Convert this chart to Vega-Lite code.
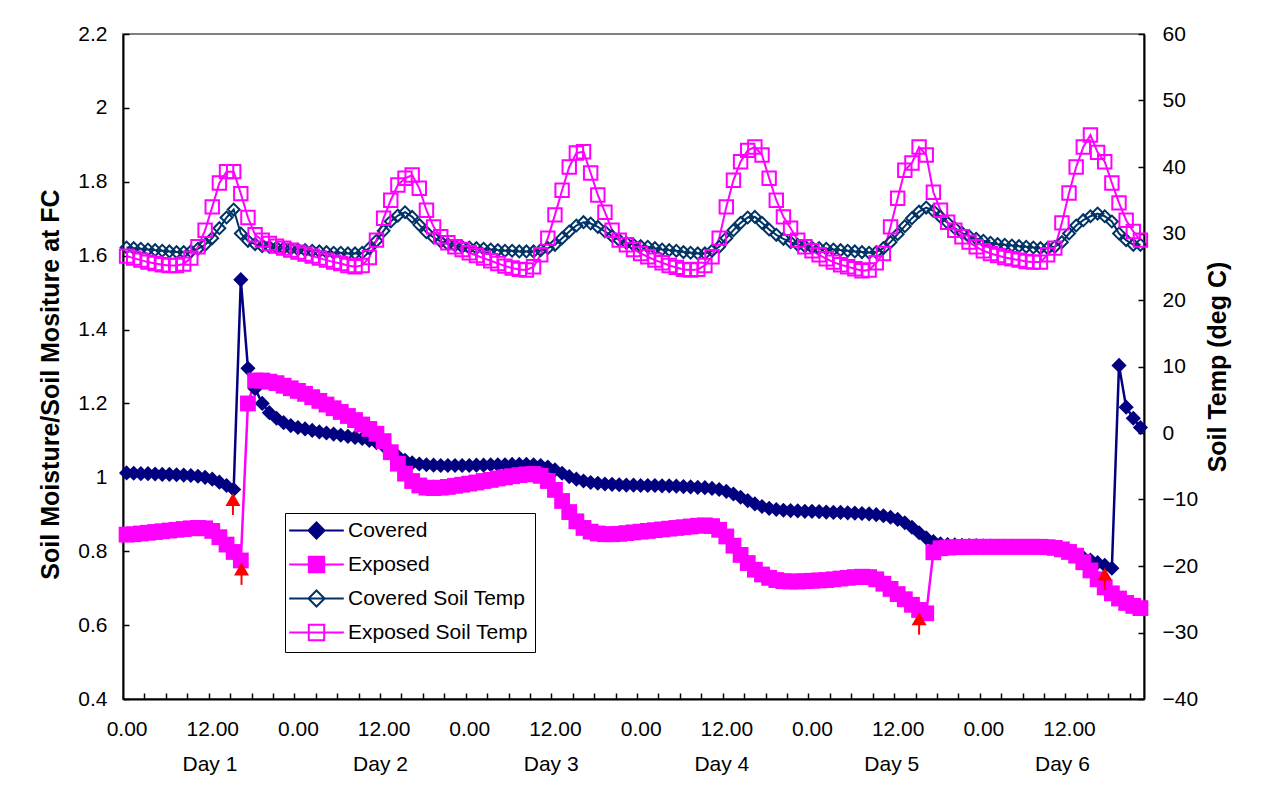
{
  "$schema": "https://vega.github.io/schema/vega-lite/v6.json",
  "width": 1021,
  "height": 665,
  "autosize": {"type": "none"},
  "padding": {"left": 123, "top": 34, "right": 125, "bottom": 100},
  "background": "white",
  "config": {
    "view": {"stroke": "#808080", "strokeWidth": 2},
    "font": "Liberation Sans",
    "axis": {
      "labelFont": "Liberation Sans", "labelFontSize": 21, "labelColor": "black",
      "titleFont": "Liberation Sans", "titleFontSize": 25, "titleFontWeight": "bold", "titleColor": "black",
      "grid": false, "domainColor": "black", "domainWidth": 2, "tickColor": "black", "tickWidth": 1.5,
      "labelFlush": false, "labelOverlap": false
    }
  },
  "datasets": {
    "main": [
      {"h":0,"Covered":1.012,"Exposed":0.845,"Covered Soil Temp":27.9,"Exposed Soil Temp":26.6},
      {"h":1,"Covered":1.011,"Exposed":0.846,"Covered Soil Temp":27.8,"Exposed Soil Temp":26.3},
      {"h":2,"Covered":1.010,"Exposed":0.848,"Covered Soil Temp":27.7,"Exposed Soil Temp":26.0},
      {"h":3,"Covered":1.010,"Exposed":0.850,"Covered Soil Temp":27.6,"Exposed Soil Temp":25.7},
      {"h":4,"Covered":1.009,"Exposed":0.852,"Covered Soil Temp":27.5,"Exposed Soil Temp":25.5},
      {"h":5,"Covered":1.008,"Exposed":0.854,"Covered Soil Temp":27.4,"Exposed Soil Temp":25.3},
      {"h":6,"Covered":1.008,"Exposed":0.856,"Covered Soil Temp":27.3,"Exposed Soil Temp":25.2},
      {"h":7,"Covered":1.007,"Exposed":0.858,"Covered Soil Temp":27.2,"Exposed Soil Temp":25.2},
      {"h":8,"Covered":1.006,"Exposed":0.860,"Covered Soil Temp":27.2,"Exposed Soil Temp":25.4},
      {"h":9,"Covered":1.005,"Exposed":0.862,"Covered Soil Temp":27.3,"Exposed Soil Temp":26.3},
      {"h":10,"Covered":1.003,"Exposed":0.863,"Covered Soil Temp":27.7,"Exposed Soil Temp":28.0},
      {"h":11,"Covered":1.000,"Exposed":0.862,"Covered Soil Temp":28.3,"Exposed Soil Temp":30.5},
      {"h":12,"Covered":0.995,"Exposed":0.855,"Covered Soil Temp":29.3,"Exposed Soil Temp":34.0},
      {"h":13,"Covered":0.987,"Exposed":0.838,"Covered Soil Temp":30.8,"Exposed Soil Temp":37.6},
      {"h":14,"Covered":0.978,"Exposed":0.818,"Covered Soil Temp":32.4,"Exposed Soil Temp":39.3},
      {"h":15,"Covered":0.967,"Exposed":0.798,"Covered Soil Temp":33.6,"Exposed Soil Temp":39.3},
      {"h":16,"Covered":1.535,"Exposed":0.775,"Covered Soil Temp":30.0,"Exposed Soil Temp":36.0},
      {"h":17,"Covered":1.295,"Exposed":1.200,"Covered Soil Temp":28.9,"Exposed Soil Temp":32.4},
      {"h":18,"Covered":1.240,"Exposed":1.262,"Covered Soil Temp":28.4,"Exposed Soil Temp":29.8},
      {"h":19,"Covered":1.200,"Exposed":1.262,"Covered Soil Temp":28.1,"Exposed Soil Temp":29.0},
      {"h":20,"Covered":1.175,"Exposed":1.259,"Covered Soil Temp":28.0,"Exposed Soil Temp":28.5},
      {"h":21,"Covered":1.160,"Exposed":1.255,"Covered Soil Temp":27.9,"Exposed Soil Temp":28.1},
      {"h":22,"Covered":1.148,"Exposed":1.248,"Covered Soil Temp":27.8,"Exposed Soil Temp":27.8},
      {"h":23,"Covered":1.140,"Exposed":1.241,"Covered Soil Temp":27.7,"Exposed Soil Temp":27.5},
      {"h":24,"Covered":1.135,"Exposed":1.234,"Covered Soil Temp":27.6,"Exposed Soil Temp":27.2},
      {"h":25,"Covered":1.131,"Exposed":1.226,"Covered Soil Temp":27.5,"Exposed Soil Temp":26.9},
      {"h":26,"Covered":1.127,"Exposed":1.217,"Covered Soil Temp":27.4,"Exposed Soil Temp":26.6},
      {"h":27,"Covered":1.123,"Exposed":1.207,"Covered Soil Temp":27.3,"Exposed Soil Temp":26.3},
      {"h":28,"Covered":1.120,"Exposed":1.197,"Covered Soil Temp":27.2,"Exposed Soil Temp":26.0},
      {"h":29,"Covered":1.117,"Exposed":1.187,"Covered Soil Temp":27.1,"Exposed Soil Temp":25.7},
      {"h":30,"Covered":1.114,"Exposed":1.177,"Covered Soil Temp":27.1,"Exposed Soil Temp":25.5},
      {"h":31,"Covered":1.111,"Exposed":1.166,"Covered Soil Temp":27.0,"Exposed Soil Temp":25.2},
      {"h":32,"Covered":1.108,"Exposed":1.155,"Covered Soil Temp":27.0,"Exposed Soil Temp":25.0},
      {"h":33,"Covered":1.105,"Exposed":1.143,"Covered Soil Temp":27.1,"Exposed Soil Temp":25.2},
      {"h":34,"Covered":1.100,"Exposed":1.131,"Covered Soil Temp":27.8,"Exposed Soil Temp":26.4},
      {"h":35,"Covered":1.094,"Exposed":1.118,"Covered Soil Temp":28.9,"Exposed Soil Temp":29.0},
      {"h":36,"Covered":1.085,"Exposed":1.098,"Covered Soil Temp":30.4,"Exposed Soil Temp":32.3},
      {"h":37,"Covered":1.072,"Exposed":1.068,"Covered Soil Temp":31.8,"Exposed Soil Temp":35.0},
      {"h":38,"Covered":1.057,"Exposed":1.037,"Covered Soil Temp":32.7,"Exposed Soil Temp":37.3},
      {"h":39,"Covered":1.046,"Exposed":1.010,"Covered Soil Temp":33.2,"Exposed Soil Temp":38.3},
      {"h":40,"Covered":1.039,"Exposed":0.990,"Covered Soil Temp":32.5,"Exposed Soil Temp":38.8},
      {"h":41,"Covered":1.036,"Exposed":0.978,"Covered Soil Temp":31.3,"Exposed Soil Temp":36.8},
      {"h":42,"Covered":1.034,"Exposed":0.972,"Covered Soil Temp":30.2,"Exposed Soil Temp":33.5},
      {"h":43,"Covered":1.033,"Exposed":0.971,"Covered Soil Temp":29.4,"Exposed Soil Temp":31.0},
      {"h":44,"Covered":1.032,"Exposed":0.972,"Covered Soil Temp":28.8,"Exposed Soil Temp":29.5},
      {"h":45,"Covered":1.032,"Exposed":0.974,"Covered Soil Temp":28.4,"Exposed Soil Temp":28.6},
      {"h":46,"Covered":1.032,"Exposed":0.977,"Covered Soil Temp":28.2,"Exposed Soil Temp":28.0},
      {"h":47,"Covered":1.032,"Exposed":0.980,"Covered Soil Temp":28.0,"Exposed Soil Temp":27.6},
      {"h":48,"Covered":1.032,"Exposed":0.983,"Covered Soil Temp":27.9,"Exposed Soil Temp":27.1},
      {"h":49,"Covered":1.033,"Exposed":0.986,"Covered Soil Temp":27.8,"Exposed Soil Temp":26.7},
      {"h":50,"Covered":1.033,"Exposed":0.990,"Covered Soil Temp":27.7,"Exposed Soil Temp":26.3},
      {"h":51,"Covered":1.034,"Exposed":0.993,"Covered Soil Temp":27.6,"Exposed Soil Temp":25.9},
      {"h":52,"Covered":1.034,"Exposed":0.997,"Covered Soil Temp":27.5,"Exposed Soil Temp":25.5},
      {"h":53,"Covered":1.034,"Exposed":1.000,"Covered Soil Temp":27.4,"Exposed Soil Temp":25.1},
      {"h":54,"Covered":1.035,"Exposed":1.003,"Covered Soil Temp":27.4,"Exposed Soil Temp":24.8},
      {"h":55,"Covered":1.035,"Exposed":1.006,"Covered Soil Temp":27.3,"Exposed Soil Temp":24.6},
      {"h":56,"Covered":1.035,"Exposed":1.008,"Covered Soil Temp":27.3,"Exposed Soil Temp":24.5},
      {"h":57,"Covered":1.034,"Exposed":1.009,"Covered Soil Temp":27.3,"Exposed Soil Temp":25.0},
      {"h":58,"Covered":1.032,"Exposed":1.004,"Covered Soil Temp":27.5,"Exposed Soil Temp":26.8},
      {"h":59,"Covered":1.028,"Exposed":0.990,"Covered Soil Temp":27.8,"Exposed Soil Temp":29.3},
      {"h":60,"Covered":1.020,"Exposed":0.966,"Covered Soil Temp":28.3,"Exposed Soil Temp":32.8},
      {"h":61,"Covered":1.011,"Exposed":0.936,"Covered Soil Temp":29.3,"Exposed Soil Temp":36.5},
      {"h":62,"Covered":1.002,"Exposed":0.906,"Covered Soil Temp":30.3,"Exposed Soil Temp":40.0},
      {"h":63,"Covered":0.995,"Exposed":0.881,"Covered Soil Temp":31.2,"Exposed Soil Temp":42.1},
      {"h":64,"Covered":0.990,"Exposed":0.863,"Covered Soil Temp":31.7,"Exposed Soil Temp":42.3},
      {"h":65,"Covered":0.986,"Exposed":0.853,"Covered Soil Temp":31.5,"Exposed Soil Temp":39.1},
      {"h":66,"Covered":0.984,"Exposed":0.848,"Covered Soil Temp":31.0,"Exposed Soil Temp":35.8},
      {"h":67,"Covered":0.982,"Exposed":0.846,"Covered Soil Temp":30.3,"Exposed Soil Temp":33.2},
      {"h":68,"Covered":0.981,"Exposed":0.846,"Covered Soil Temp":29.6,"Exposed Soil Temp":30.5},
      {"h":69,"Covered":0.980,"Exposed":0.847,"Covered Soil Temp":29.0,"Exposed Soil Temp":29.0},
      {"h":70,"Covered":0.979,"Exposed":0.849,"Covered Soil Temp":28.6,"Exposed Soil Temp":28.3},
      {"h":71,"Covered":0.979,"Exposed":0.851,"Covered Soil Temp":28.3,"Exposed Soil Temp":27.6},
      {"h":72,"Covered":0.978,"Exposed":0.853,"Covered Soil Temp":28.1,"Exposed Soil Temp":27.0},
      {"h":73,"Covered":0.978,"Exposed":0.855,"Covered Soil Temp":28.0,"Exposed Soil Temp":26.5},
      {"h":74,"Covered":0.978,"Exposed":0.857,"Covered Soil Temp":27.8,"Exposed Soil Temp":26.0},
      {"h":75,"Covered":0.977,"Exposed":0.859,"Covered Soil Temp":27.6,"Exposed Soil Temp":25.6},
      {"h":76,"Covered":0.977,"Exposed":0.861,"Covered Soil Temp":27.5,"Exposed Soil Temp":25.2},
      {"h":77,"Covered":0.976,"Exposed":0.863,"Covered Soil Temp":27.4,"Exposed Soil Temp":24.9},
      {"h":78,"Covered":0.975,"Exposed":0.865,"Covered Soil Temp":27.2,"Exposed Soil Temp":24.6},
      {"h":79,"Covered":0.974,"Exposed":0.867,"Covered Soil Temp":27.1,"Exposed Soil Temp":24.5},
      {"h":80,"Covered":0.973,"Exposed":0.869,"Covered Soil Temp":27.0,"Exposed Soil Temp":24.6},
      {"h":81,"Covered":0.972,"Exposed":0.870,"Covered Soil Temp":27.0,"Exposed Soil Temp":25.2},
      {"h":82,"Covered":0.970,"Exposed":0.868,"Covered Soil Temp":27.4,"Exposed Soil Temp":26.5},
      {"h":83,"Covered":0.967,"Exposed":0.858,"Covered Soil Temp":28.0,"Exposed Soil Temp":29.3},
      {"h":84,"Covered":0.962,"Exposed":0.840,"Covered Soil Temp":29.3,"Exposed Soil Temp":34.0},
      {"h":85,"Covered":0.955,"Exposed":0.815,"Covered Soil Temp":30.5,"Exposed Soil Temp":38.0},
      {"h":86,"Covered":0.946,"Exposed":0.790,"Covered Soil Temp":31.6,"Exposed Soil Temp":40.8},
      {"h":87,"Covered":0.937,"Exposed":0.768,"Covered Soil Temp":32.4,"Exposed Soil Temp":42.5},
      {"h":88,"Covered":0.928,"Exposed":0.750,"Covered Soil Temp":32.5,"Exposed Soil Temp":43.0},
      {"h":89,"Covered":0.921,"Exposed":0.737,"Covered Soil Temp":31.6,"Exposed Soil Temp":41.8},
      {"h":90,"Covered":0.916,"Exposed":0.728,"Covered Soil Temp":30.6,"Exposed Soil Temp":38.3},
      {"h":91,"Covered":0.913,"Exposed":0.722,"Covered Soil Temp":29.8,"Exposed Soil Temp":35.0},
      {"h":92,"Covered":0.911,"Exposed":0.719,"Covered Soil Temp":29.2,"Exposed Soil Temp":32.5},
      {"h":93,"Covered":0.910,"Exposed":0.718,"Covered Soil Temp":28.7,"Exposed Soil Temp":30.8},
      {"h":94,"Covered":0.909,"Exposed":0.718,"Covered Soil Temp":28.3,"Exposed Soil Temp":29.0},
      {"h":95,"Covered":0.908,"Exposed":0.719,"Covered Soil Temp":28.1,"Exposed Soil Temp":28.0},
      {"h":96,"Covered":0.908,"Exposed":0.720,"Covered Soil Temp":27.9,"Exposed Soil Temp":27.4},
      {"h":97,"Covered":0.907,"Exposed":0.721,"Covered Soil Temp":27.8,"Exposed Soil Temp":26.8},
      {"h":98,"Covered":0.906,"Exposed":0.722,"Covered Soil Temp":27.7,"Exposed Soil Temp":26.2},
      {"h":99,"Covered":0.905,"Exposed":0.724,"Covered Soil Temp":27.6,"Exposed Soil Temp":25.7},
      {"h":100,"Covered":0.905,"Exposed":0.726,"Covered Soil Temp":27.5,"Exposed Soil Temp":25.3},
      {"h":101,"Covered":0.904,"Exposed":0.728,"Covered Soil Temp":27.4,"Exposed Soil Temp":25.0},
      {"h":102,"Covered":0.903,"Exposed":0.730,"Covered Soil Temp":27.3,"Exposed Soil Temp":24.7},
      {"h":103,"Covered":0.902,"Exposed":0.731,"Covered Soil Temp":27.2,"Exposed Soil Temp":24.4},
      {"h":104,"Covered":0.901,"Exposed":0.730,"Covered Soil Temp":27.1,"Exposed Soil Temp":24.5},
      {"h":105,"Covered":0.899,"Exposed":0.724,"Covered Soil Temp":27.2,"Exposed Soil Temp":25.6},
      {"h":106,"Covered":0.896,"Exposed":0.712,"Covered Soil Temp":27.8,"Exposed Soil Temp":27.0},
      {"h":107,"Covered":0.892,"Exposed":0.698,"Covered Soil Temp":28.7,"Exposed Soil Temp":31.0},
      {"h":108,"Covered":0.886,"Exposed":0.684,"Covered Soil Temp":29.9,"Exposed Soil Temp":35.3},
      {"h":109,"Covered":0.877,"Exposed":0.670,"Covered Soil Temp":31.1,"Exposed Soil Temp":39.5},
      {"h":110,"Covered":0.865,"Exposed":0.655,"Covered Soil Temp":32.3,"Exposed Soil Temp":40.6},
      {"h":111,"Covered":0.850,"Exposed":0.641,"Covered Soil Temp":33.3,"Exposed Soil Temp":43.0},
      {"h":112,"Covered":0.836,"Exposed":0.632,"Covered Soil Temp":33.9,"Exposed Soil Temp":41.8},
      {"h":113,"Covered":0.826,"Exposed":0.797,"Covered Soil Temp":33.4,"Exposed Soil Temp":36.2},
      {"h":114,"Covered":0.820,"Exposed":0.808,"Covered Soil Temp":32.5,"Exposed Soil Temp":33.5},
      {"h":115,"Covered":0.818,"Exposed":0.810,"Covered Soil Temp":31.6,"Exposed Soil Temp":31.7},
      {"h":116,"Covered":0.817,"Exposed":0.811,"Covered Soil Temp":30.8,"Exposed Soil Temp":30.5},
      {"h":117,"Covered":0.816,"Exposed":0.811,"Covered Soil Temp":30.1,"Exposed Soil Temp":29.5},
      {"h":118,"Covered":0.815,"Exposed":0.812,"Covered Soil Temp":29.6,"Exposed Soil Temp":28.7},
      {"h":119,"Covered":0.815,"Exposed":0.812,"Covered Soil Temp":29.2,"Exposed Soil Temp":28.0},
      {"h":120,"Covered":0.814,"Exposed":0.812,"Covered Soil Temp":28.9,"Exposed Soil Temp":27.4},
      {"h":121,"Covered":0.814,"Exposed":0.812,"Covered Soil Temp":28.6,"Exposed Soil Temp":27.0},
      {"h":122,"Covered":0.813,"Exposed":0.812,"Covered Soil Temp":28.4,"Exposed Soil Temp":26.7},
      {"h":123,"Covered":0.813,"Exposed":0.812,"Covered Soil Temp":28.3,"Exposed Soil Temp":26.4},
      {"h":124,"Covered":0.812,"Exposed":0.812,"Covered Soil Temp":28.2,"Exposed Soil Temp":26.2},
      {"h":125,"Covered":0.812,"Exposed":0.812,"Covered Soil Temp":28.1,"Exposed Soil Temp":26.0},
      {"h":126,"Covered":0.812,"Exposed":0.812,"Covered Soil Temp":28.0,"Exposed Soil Temp":25.8},
      {"h":127,"Covered":0.811,"Exposed":0.812,"Covered Soil Temp":27.9,"Exposed Soil Temp":25.7},
      {"h":128,"Covered":0.811,"Exposed":0.812,"Covered Soil Temp":27.8,"Exposed Soil Temp":25.7},
      {"h":129,"Covered":0.810,"Exposed":0.811,"Covered Soil Temp":27.8,"Exposed Soil Temp":26.8},
      {"h":130,"Covered":0.808,"Exposed":0.809,"Covered Soil Temp":28.0,"Exposed Soil Temp":27.8},
      {"h":131,"Covered":0.804,"Exposed":0.805,"Covered Soil Temp":28.7,"Exposed Soil Temp":31.6},
      {"h":132,"Covered":0.798,"Exposed":0.798,"Covered Soil Temp":30.0,"Exposed Soil Temp":36.1},
      {"h":133,"Covered":0.791,"Exposed":0.788,"Covered Soil Temp":31.2,"Exposed Soil Temp":40.0},
      {"h":134,"Covered":0.783,"Exposed":0.770,"Covered Soil Temp":32.0,"Exposed Soil Temp":43.0},
      {"h":135,"Covered":0.776,"Exposed":0.748,"Covered Soil Temp":32.6,"Exposed Soil Temp":44.8},
      {"h":136,"Covered":0.769,"Exposed":0.724,"Covered Soil Temp":33.0,"Exposed Soil Temp":42.2},
      {"h":137,"Covered":0.762,"Exposed":0.702,"Covered Soil Temp":32.6,"Exposed Soil Temp":40.8},
      {"h":138,"Covered":0.754,"Exposed":0.686,"Covered Soil Temp":31.8,"Exposed Soil Temp":37.6},
      {"h":139,"Covered":1.303,"Exposed":0.672,"Covered Soil Temp":30.0,"Exposed Soil Temp":34.6},
      {"h":140,"Covered":1.190,"Exposed":0.660,"Covered Soil Temp":29.0,"Exposed Soil Temp":32.0},
      {"h":141,"Covered":1.160,"Exposed":0.652,"Covered Soil Temp":28.3,"Exposed Soil Temp":30.3},
      {"h":142,"Covered":1.135,"Exposed":0.646,"Covered Soil Temp":28.3,"Exposed Soil Temp":29.0}
    ],
    "arrows": [
      {"h":14.9,"base":0.898,"mid":0.940},
      {"h":16.1,"base":0.709,"mid":0.752},
      {"h":111.0,"base":0.574,"mid":0.617},
      {"h":137.0,"base":0.695,"mid":0.738}
    ],
    "legend": [
      {"h":0,"val":1,"series":"Covered"},
      {"h":0,"val":1,"series":"Exposed"},
      {"h":0,"val":1,"series":"Covered Soil Temp"},
      {"h":0,"val":1,"series":"Exposed Soil Temp"}
    ]
  },
  "resolve": {"scale": {"y": "independent"}, "axis": {"x": "independent", "y": "independent"}},
  "layer": [
    {
      "data": {"name": "main"},
      "mark": {"type": "line", "strokeWidth": 2.5, "color": "#000080"},
      "encoding": {
        "x": {"field": "h", "type": "quantitative", "scale": {"domain": [-0.5, 142.5], "nice": false, "zero": false},
          "axis": {"orient": "bottom", "title": null, "labels": false, "tickSize": -6, "domain": true,
            "values": [2.5,5.5,8.5,11.5,14.5,17.5,20.5,23.5,26.5,29.5,32.5,35.5,38.5,41.5,44.5,47.5,50.5,53.5,56.5,59.5,62.5,65.5,68.5,71.5,74.5,77.5,80.5,83.5,86.5,89.5,92.5,95.5,98.5,101.5,104.5,107.5,110.5,113.5,116.5,119.5,122.5,125.5,128.5,131.5,134.5,137.5,140.5]}},
        "y": {"field": "Covered", "type": "quantitative", "scale": {"domain": [0.4, 2.2], "nice": false, "zero": false},
          "axis": {"orient": "left", "values": [0.4,0.6,0.8,1,1.2,1.4,1.6,1.8,2,2.2], "format": "~g", "tickSize": -6, "labelPadding": 22,
            "title": "Soil Moisture/Soil Mositure at FC", "titleX": -73, "titleY": 350, "titleAngle": 270, "titleAlign": "center", "titleBaseline": "middle"}}
      }
    },
    {
      "data": {"name": "main"},
      "mark": {"type": "line", "strokeWidth": 2.5, "color": "#FF00FF"},
      "encoding": {
        "x": {"field": "h", "type": "quantitative", "scale": {"domain": [-0.5, 142.5], "nice": false, "zero": false},
          "axis": {"orient": "bottom", "title": null, "ticks": false, "domain": false, "labelPadding": 19,
            "values": [0,12,24,36,48,60,72,84,96,108,120,132],
            "labelExpr": "datum.value % 24 === 0 ? '0.00' : '12.00'"}},
        "y": {"field": "Exposed", "type": "quantitative", "scale": {"domain": [0.4, 2.2], "nice": false, "zero": false}, "axis": null}
      }
    },
    {
      "data": {"name": "main"},
      "mark": {"type": "point", "shape": "diamond", "filled": true, "color": "#000080", "size": 230, "opacity": 1},
      "encoding": {
        "x": {"field": "h", "type": "quantitative", "scale": {"domain": [-0.5, 142.5], "nice": false, "zero": false}, "axis": null},
        "y": {"field": "Covered", "type": "quantitative", "scale": {"domain": [0.4, 2.2], "nice": false, "zero": false}, "axis": null}
      }
    },
    {
      "data": {"name": "main"},
      "mark": {"type": "point", "shape": "square", "filled": true, "color": "#FF00FF", "size": 250, "opacity": 1},
      "encoding": {
        "x": {"field": "h", "type": "quantitative", "scale": {"domain": [-0.5, 142.5], "nice": false, "zero": false}, "axis": null},
        "y": {"field": "Exposed", "type": "quantitative", "scale": {"domain": [0.4, 2.2], "nice": false, "zero": false}, "axis": null}
      }
    },
    {
      "data": {"name": "main"},
      "mark": {"type": "line", "strokeWidth": 2, "color": "#003366"},
      "encoding": {
        "x": {"field": "h", "type": "quantitative", "scale": {"domain": [-0.5, 142.5], "nice": false, "zero": false},
          "axis": {"orient": "bottom", "title": null, "ticks": false, "domain": false, "labelPadding": 54,
            "values": [11.6, 35.5, 59.4, 83.3, 107.1, 131.0],
            "labelExpr": "'Day ' + (round((datum.value - 11.6) / 23.9) + 1)"}},
        "y": {"field": "Covered Soil Temp", "type": "quantitative", "scale": {"domain": [-40, 60], "nice": false, "zero": false},
          "axis": {"orient": "right", "values": [-40,-30,-20,-10,0,10,20,30,40,50,60], "tickSize": -6, "labelPadding": 24,
            "title": "Soil Temp (deg C)", "titleX": 73, "titleY": 332.5, "titleAngle": 270, "titleAlign": "center", "titleBaseline": "middle"}}
      }
    },
    {
      "data": {"name": "main"},
      "mark": {"type": "line", "strokeWidth": 2, "color": "#FF00FF"},
      "encoding": {
        "x": {"field": "h", "type": "quantitative", "scale": {"domain": [-0.5, 142.5], "nice": false, "zero": false}, "axis": null},
        "y": {"field": "Exposed Soil Temp", "type": "quantitative", "scale": {"domain": [-40, 60], "nice": false, "zero": false}, "axis": null}
      }
    },
    {
      "data": {"name": "main"},
      "mark": {"type": "point", "shape": "diamond", "filled": false, "color": "#003366", "size": 140, "strokeWidth": 2, "opacity": 1},
      "encoding": {
        "x": {"field": "h", "type": "quantitative", "scale": {"domain": [-0.5, 142.5], "nice": false, "zero": false}, "axis": null},
        "y": {"field": "Covered Soil Temp", "type": "quantitative", "scale": {"domain": [-40, 60], "nice": false, "zero": false}, "axis": null}
      }
    },
    {
      "data": {"name": "main"},
      "mark": {"type": "point", "shape": "square", "filled": false, "color": "#FF00FF", "size": 180, "strokeWidth": 2, "opacity": 1},
      "encoding": {
        "x": {"field": "h", "type": "quantitative", "scale": {"domain": [-0.5, 142.5], "nice": false, "zero": false}, "axis": null},
        "y": {"field": "Exposed Soil Temp", "type": "quantitative", "scale": {"domain": [-40, 60], "nice": false, "zero": false}, "axis": null}
      }
    },
    {
      "data": {"name": "arrows"},
      "mark": {"type": "rule", "color": "#FF0000", "strokeWidth": 2},
      "encoding": {
        "x": {"field": "h", "type": "quantitative", "scale": {"domain": [-0.5, 142.5], "nice": false, "zero": false}, "axis": null},
        "y": {"field": "base", "type": "quantitative", "scale": {"domain": [0.4, 2.2], "nice": false, "zero": false}, "axis": null},
        "y2": {"field": "mid"}
      }
    },
    {
      "data": {"name": "arrows"},
      "mark": {"type": "point", "shape": "triangle-up", "filled": true, "color": "#FF0000", "size": 225, "opacity": 1},
      "encoding": {
        "x": {"field": "h", "type": "quantitative", "scale": {"domain": [-0.5, 142.5], "nice": false, "zero": false}, "axis": null},
        "y": {"field": "mid", "type": "quantitative", "scale": {"domain": [0.4, 2.2], "nice": false, "zero": false}, "axis": null}
      }
    },
    {
      "data": {"name": "legend"},
      "transform": [{"filter": "datum.h < 0"}],
      "mark": {"type": "point", "opacity": 1, "fillOpacity": 1, "strokeOpacity": 1, "filled": true, "strokeWidth": 2},
      "encoding": {
        "x": {"field": "h", "type": "quantitative", "scale": {"domain": [-0.5, 142.5], "nice": false, "zero": false}, "axis": null},
        "y": {"field": "val", "type": "quantitative", "scale": {"domain": [0.4, 2.2], "nice": false, "zero": false}, "axis": null},
        "fill": {"field": "series", "type": "nominal",
          "scale": {"domain": ["Covered", "Exposed", "Covered Soil Temp", "Exposed Soil Temp"], "range": ["#000080", "#FF00FF", "transparent", "transparent"]},
          "legend": {
            "orient": "none", "legendX": 162, "legendY": 479, "title": null, "direction": "vertical",
            "strokeColor": "black", "fillColor": "white", "padding": 7,
            "labelFont": "Liberation Sans", "labelFontSize": 21, "labelColor": "black", "labelLimit": 400,
            "rowPadding": 9, "symbolSize": 196, "symbolOffset": 14, "labelOffset": 21, "symbolStrokeWidth": 2, "symbolOpacity": 1
          }},
        "stroke": {"field": "series", "type": "nominal",
          "scale": {"domain": ["Covered", "Exposed", "Covered Soil Temp", "Exposed Soil Temp"], "range": ["#000080", "#FF00FF", "#003366", "#FF00FF"]}},
        "shape": {"field": "series", "type": "nominal",
          "scale": {"domain": ["Covered", "Exposed", "Covered Soil Temp", "Exposed Soil Temp"],
            "range": ["M-3.9,0L3.9,0M0,-1.15L1.15,0L0,1.15L-1.15,0Z", "M-3.9,0L3.9,0M-1.1,-1.1L1.1,-1.1L1.1,1.1L-1.1,1.1Z", "M-3.9,0L3.9,0M0,-1.15L1.15,0L0,1.15L-1.15,0Z", "M-3.9,0L3.9,0M-1.1,-1.1L1.1,-1.1L1.1,1.1L-1.1,1.1Z"]}}
      }
    }
  ]
}
